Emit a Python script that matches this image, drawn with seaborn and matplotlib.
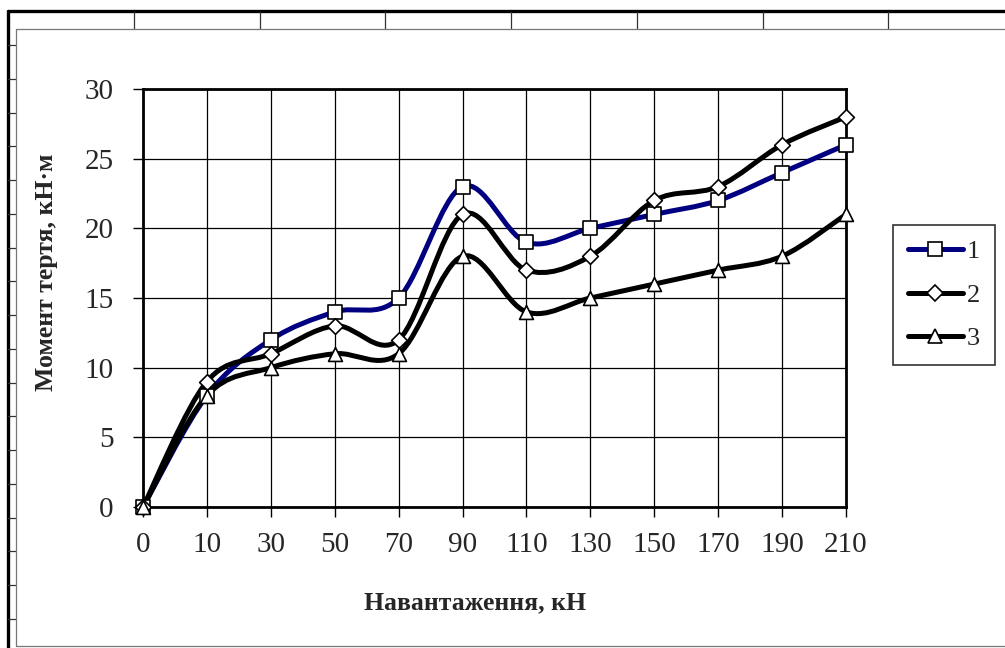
import numpy as np
import pandas as pd
import seaborn as sns
import matplotlib.pyplot as plt
from matplotlib.path import Path
from matplotlib.patches import PathPatch
from matplotlib.lines import Line2D

# дані
loads = ["0", "10", "30", "50", "70", "90", "110", "130", "150", "170", "190", "210"]
series_1 = [0, 8, 12, 14, 15, 23, 19, 20, 21, 22, 24, 26]
series_2 = [0, 9, 11, 13, 12, 21, 17, 18, 22, 23, 26, 28]
series_3 = [0, 8, 10, 11, 11, 18, 14, 15, 16, 17, 18, 21]
series_names = ["1", "2", "3"]

sns.set_style("white")
plt.rcParams['font.family'] = ['Liberation Serif', 'DejaVu Serif']

W, H = 1005, 648
fig = plt.figure(figsize=(W / 100, H / 100), dpi=100)


def fx(px):
    return px / W


def fy(py):
    return 1 - py / H


# рамка аркуша (клітинки Excel)
fig.add_artist(Line2D([fx(8), 1], [fy(11), fy(11)], color='black', lw=2.4))
fig.add_artist(Line2D([fx(8), fx(8)], [fy(11), 0], color='black', lw=2.4))
for xc in np.arange(134, W, 125.7):
    fig.add_artist(Line2D([fx(xc), fx(xc)], [fy(12), fy(29)], color='#333333', lw=0.9))
for yc in np.arange(45, H, 33.75):
    fig.add_artist(Line2D([fx(8), fx(16)], [fy(yc), fy(yc)], color='#333333', lw=0.9))
fig.add_artist(Line2D([fx(16), 1], [fy(29), fy(29)], color='#777777', lw=0.9))
fig.add_artist(Line2D([fx(16), fx(16)], [fy(29), fy(646)], color='#777777', lw=0.9))
fig.add_artist(Line2D([fx(16), 1], [fy(646), fy(646)], color='#777777', lw=0.9))

ax = fig.add_axes([fx(143), fy(507), (846 - 143) / W, (507 - 89) / H])
x = np.arange(len(loads))


def smooth_path(xs, ys):
    # згладжування як в Excel (кубічні криві Безьє)
    pts = np.column_stack([xs, ys]).astype(float)
    ext = np.vstack([pts[0], pts, pts[-1]])
    verts = [pts[0]]
    codes = [Path.MOVETO]
    for i in range(len(pts) - 1):
        p0, p1, p2, p3 = ext[i], ext[i + 1], ext[i + 2], ext[i + 3]
        c1 = p1 + (p2 - p0) / 6
        c2 = p2 - (p3 - p1) / 6
        verts += [c1, c2, p2]
        codes += [Path.CURVE4] * 3
    return Path(verts, codes)


styles = [
    (series_1, '#000080', 's', 10),
    (series_2, 'black', 'D', 8),
    (series_3, 'black', '^', 10),
]

handles = []
for (vals, color, marker, ms), name in zip(styles, series_names):
    patch = PathPatch(smooth_path(x, vals), facecolor='none', edgecolor=color,
                      lw=3.6, capstyle='round', joinstyle='round', zorder=3)
    ax.add_patch(patch)
    df = pd.DataFrame({'x': x, 'y': vals})
    sns.scatterplot(data=df, x='x', y='y', marker=marker, s=ms ** 2,
                    facecolor='white', edgecolor='black', linewidth=1.2,
                    zorder=4, ax=ax, clip_on=False)
    handles.append(Line2D([], [], color=color, lw=3.6, marker=marker,
                          markersize=ms, markerfacecolor='white',
                          markeredgecolor='black', markeredgewidth=1.2,
                          solid_capstyle='round'))

ax.set_xlim(0, len(loads) - 1)
ax.set_ylim(0, 30)
ax.set_xticks(x)
ax.set_xticklabels(loads)
ax.set_yticks(np.arange(0, 31, 5))
ax.grid(True, color='black', lw=0.9)
ax.set_axisbelow(True)
for sp in ax.spines.values():
    sp.set_color('black')
    sp.set_linewidth(2)
ax.tick_params(axis='both', which='both', direction='out', length=7, width=1,
               color='black', labelsize=21, left=True, bottom=True)
ax.tick_params(axis='y', pad=14)
ax.tick_params(axis='x', pad=11)

ax.set_xlabel("")
ax.set_ylabel("")
fig.text(fx(475), fy(603), "Навантаження, кН", ha='center', va='center',
         fontsize=18.5, fontweight='bold')
fig.text(fx(46), fy(272), "Момент тертя, кН·м", ha='center', va='center',
         rotation=90, fontsize=18.5, fontweight='bold')

leg = fig.legend(handles, series_names, loc='center',
                 bbox_to_anchor=(fx(944), fy(295)), fontsize=19,
                 frameon=True, fancybox=False, shadow=False,
                 handlelength=2.1, handletextpad=0.15, labelspacing=0.75,
                 borderpad=0.55, borderaxespad=0)
leg.get_frame().set_edgecolor('black')
leg.get_frame().set_linewidth(1.2)

fig.savefig("out.png", dpi=100)
